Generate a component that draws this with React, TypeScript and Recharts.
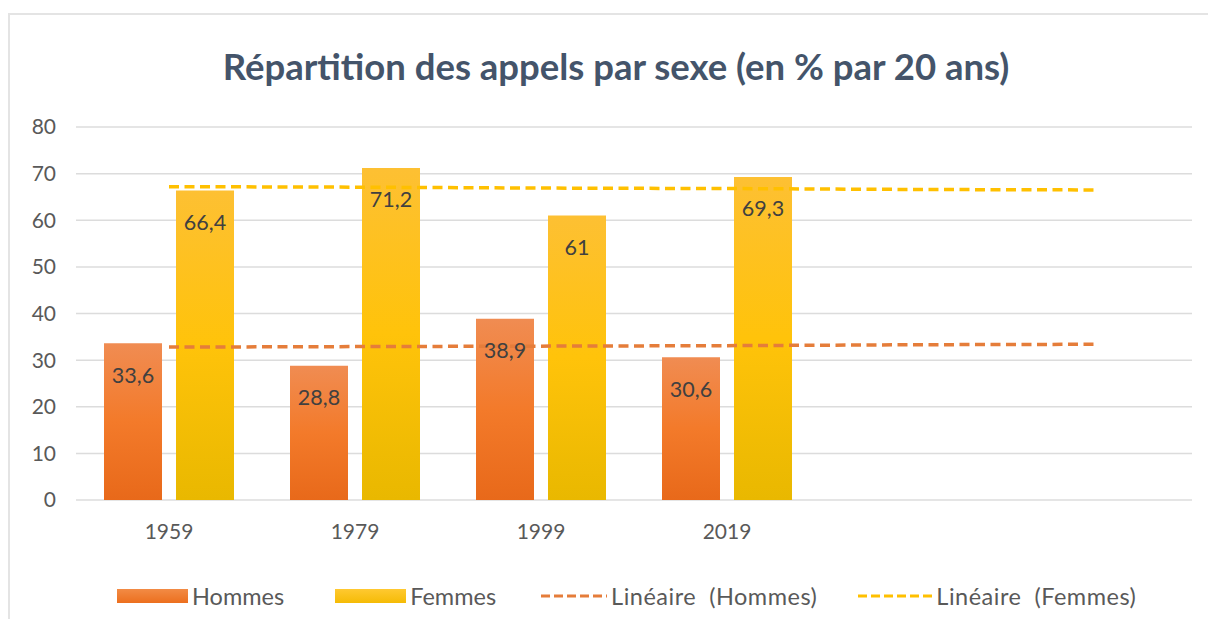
import {
  ComposedChart,
  Bar,
  Line,
  XAxis,
  YAxis,
  CartesianGrid,
  Legend,
  LabelList,
} from 'recharts';

const years = ['1959', '1979', '1999', '2019', '', ''];
const hommes = [33.6, 28.8, 38.9, 30.6, null, null];
const femmes = [66.4, 71.2, 61, 69.3, null, null];
// trend lines
const hommesTrend = [32.8, 32.9, 33.0, 33.1, 33.3, 33.4];
const femmesTrend = [67.2, 67.1, 66.9, 66.8, 66.6, 66.5];
const yTicks = [0, 10, 20, 30, 40, 50, 60, 70, 80];

const chartData = years.map((year, i) => ({
  year,
  hommes: hommes[i],
  femmes: femmes[i],
  hommesTrend: hommesTrend[i],
  femmesTrend: femmesTrend[i],
}));

const FONT = 'Lato, "DejaVu Sans", sans-serif';
const TEXT = '#595959';

const fmt = (v: any) => (v == null ? '' : String(v).replace('.', ','));

function LegendBox() {
  const item = (marker: any, label: string, ml: number, ls = 0) => (
    <div style={{ display: 'flex', alignItems: 'center', marginLeft: ml }}>
      {marker}
      <span
        style={{
          marginLeft: 4,
          fontSize: 23.5,
          color: TEXT,
          fontFamily: FONT,
          whiteSpace: 'pre',
          letterSpacing: ls,
        }}
      >
        {label}
      </span>
    </div>
  );
  const rect = (c1: string, c2: string) => (
    <div style={{ width: 71, height: 14, background: `linear-gradient(${c1}, ${c2})` }} />
  );
  const dash = (c: string, w: number) => (
    <svg width={w} height={6}>
      <line x1={0} y1={3} x2={w} y2={3} stroke={c} strokeWidth={3} strokeDasharray="9 4" />
    </svg>
  );
  return (
    <div style={{ display: 'flex', alignItems: 'center', height: 30, paddingLeft: 109 }}>
      {item(rect('#f28b45', '#ec6f1e'), 'Hommes', 0)}
      {item(rect('#ffc931', '#f5bb05'), 'Femmes', 51)}
      {item(dash('#e57d3a', 66), 'Linéaire  (Hommes)', 45, 0.5)}
      {item(dash('#ffc000', 74), 'Linéaire  (Femmes)', 41, 0.5)}
    </div>
  );
}

export default function App() {
  return (
    <div
      style={{
        position: 'relative',
        top: 5,
        width: 1208,
        height: 611,
        borderTop: '2px solid #e4e4e4',
        borderLeft: '2px solid #e4e4e4',
        borderBottom: '1px solid #eeeeee',
        boxSizing: 'border-box',
        background: '#ffffff',
      }}
    >
      <style>{'body{overflow:hidden}'}</style>
      <div
        style={{
          position: 'absolute',
          top: 29,
          left: 0,
          width: 1212,
          textAlign: 'center',
          fontFamily: FONT,
          fontWeight: 700,
          fontSize: 36.5,
          color: '#44546a',
        }}
      >
        Répartition des appels par sexe (en % par 20 ans)
      </div>
      <div style={{ position: 'absolute', top: -2, left: -2 }}>
        <ComposedChart
          width={1208}
          height={611}
          data={chartData}
          margin={{ top: 114, right: 24, bottom: 54, left: 0 }}
          barSize={58}
          barGap={14}
          style={{ fontFamily: FONT }}
        >
          <defs>
            <linearGradient id="gH" x1="0" y1="0" x2="0" y2="1">
              <stop offset="0%" stopColor="#f08c52" />
              <stop offset="50%" stopColor="#f37a2a" />
              <stop offset="100%" stopColor="#e8691a" />
            </linearGradient>
            <linearGradient id="gF" x1="0" y1="0" x2="0" y2="1">
              <stop offset="0%" stopColor="#fdc033" />
              <stop offset="50%" stopColor="#ffc30a" />
              <stop offset="100%" stopColor="#e9b800" />
            </linearGradient>
          </defs>
          <CartesianGrid vertical={false} stroke="#dcdcdc" strokeWidth={1.5} />
          <XAxis
            dataKey="year"
            axisLine={false}
            tickLine={false}
            tickSize={0}
            tickMargin={24}
            height={40}
            interval={0}
            tick={{ fill: TEXT, fontSize: 21 }}
          />
          <YAxis
            domain={[0, 80]}
            ticks={yTicks}
            axisLine={false}
            tickLine={false}
            tickSize={0}
            tickMargin={20}
            width={68}
            tick={{ fill: TEXT, fontSize: 21 }}
          />
          <Legend
            verticalAlign="bottom"
            content={() => <LegendBox />}
            wrapperStyle={{ left: 0, width: 1208, bottom: 13, height: 30 }}
          />
          <Bar dataKey="hommes" name="Hommes" fill="url(#gH)" isAnimationActive={false}>
            <LabelList
              dataKey="hommes"
              position="insideTop"
              offset={24}
              formatter={fmt}
              style={{ fill: '#404040', fontSize: 21.5 }}
            />
          </Bar>
          <Bar dataKey="femmes" name="Femmes" fill="url(#gF)" isAnimationActive={false}>
            <LabelList
              dataKey="femmes"
              position="insideTop"
              offset={24}
              formatter={fmt}
              style={{ fill: '#404040', fontSize: 21.5 }}
            />
          </Bar>
          <Line
            type="linear"
            dataKey="hommesTrend"
            name="Linéaire (Hommes)"
            stroke="#e57d3a"
            strokeWidth={3.5}
            strokeDasharray="10 5.5"
            dot={false}
            activeDot={false}
            isAnimationActive={false}
          />
          <Line
            type="linear"
            dataKey="femmesTrend"
            name="Linéaire (Femmes)"
            stroke="#ffc000"
            strokeWidth={3.5}
            strokeDasharray="10 5.5"
            dot={false}
            activeDot={false}
            isAnimationActive={false}
          />
        </ComposedChart>
      </div>
    </div>
  );
}
